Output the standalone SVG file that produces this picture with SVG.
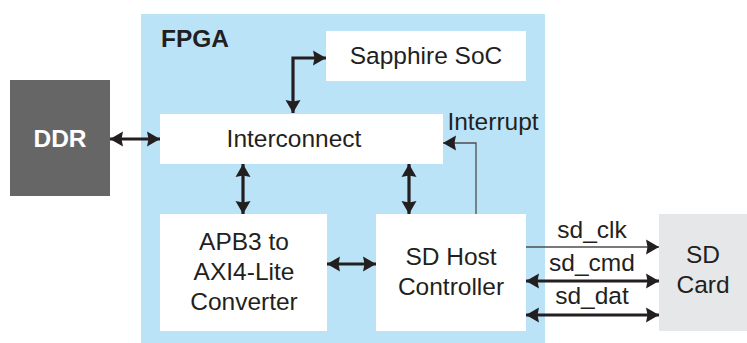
<svg xmlns="http://www.w3.org/2000/svg" width="747" height="343" viewBox="0 0 747 343">
<style>
text{font-family:"Liberation Sans",Arial,sans-serif;font-size:24.5px;fill:#231f20;text-anchor:middle}
.b{font-weight:bold}
.box{fill:#ffffff}
.thick{stroke:#231f20;stroke-width:3.2;fill:none}
.thin{stroke:#4d4d4f;stroke-width:1.3;fill:none}
</style>
<defs>
<marker id="ah" markerUnits="userSpaceOnUse" markerWidth="14" markerHeight="16" refX="13" refY="8" orient="auto-start-reverse" viewBox="0 0 14 16">
<path d="M0,0.5 L13,8 L0,15.5 L1.5,8 z" fill="#231f20"/>
</marker>
</defs>
<rect width="747" height="343" fill="#ffffff"/>
<g id="fpga">
<rect x="141" y="14" width="404" height="329" fill="#bbe3f7"/>
<text class="b" x="161" y="47" style="text-anchor:start">FPGA</text>
</g>
<g id="ddr">
<rect x="10" y="80" width="100" height="116" fill="#666666"/>
<text class="b" x="60" y="147" style="fill:#ffffff">DDR</text>
</g>
<g id="sapphire">
<rect class="box" x="326" y="31" width="200" height="50"/>
<text x="426" y="64">Sapphire SoC</text>
</g>
<g id="interconnect">
<rect class="box" x="160" y="114" width="283" height="50"/>
<text x="294" y="147">Interconnect</text>
</g>
<g id="apb3">
<rect class="box" x="160" y="214" width="167" height="117"/>
<text x="244" y="250">APB3 to</text>
<text x="244" y="280">AXI4-Lite</text>
<text x="244" y="310">Converter</text>
</g>
<g id="sdhost">
<rect class="box" x="376" y="214" width="150" height="117"/>
<text x="451" y="265">SD Host</text>
<text x="451" y="295">Controller</text>
</g>
<g id="sdcard">
<rect x="659" y="214" width="88" height="117" fill="#e6e7e8"/>
<text x="703" y="263">SD</text>
<text x="703" y="293">Card</text>
</g>
<g id="connectors">
<line class="thick" x1="110" y1="139" x2="160" y2="139" marker-start="url(#ah)" marker-end="url(#ah)"/>
<path class="thick" d="M293,113 L293,58 L326,58" marker-start="url(#ah)" marker-end="url(#ah)"/>
<line class="thick" x1="243" y1="164" x2="243" y2="214" marker-start="url(#ah)" marker-end="url(#ah)"/>
<line class="thick" x1="409" y1="164" x2="409" y2="214" marker-start="url(#ah)" marker-end="url(#ah)"/>
<line class="thick" x1="327" y1="264" x2="376" y2="264" marker-start="url(#ah)" marker-end="url(#ah)"/>
<path class="thin" d="M476,214 L476,143 L443,143" marker-end="url(#ah)"/>
<text x="493" y="130">Interrupt</text>
<line class="thin" x1="526" y1="247" x2="659" y2="247" marker-end="url(#ah)"/>
<text x="592" y="238">sd_clk</text>
<line class="thick" x1="526" y1="281" x2="659" y2="281" marker-start="url(#ah)" marker-end="url(#ah)"/>
<text x="592" y="271">sd_cmd</text>
<line class="thick" x1="526" y1="315" x2="659" y2="315" marker-start="url(#ah)" marker-end="url(#ah)"/>
<text x="592" y="304">sd_dat</text>
</g>
</svg>
